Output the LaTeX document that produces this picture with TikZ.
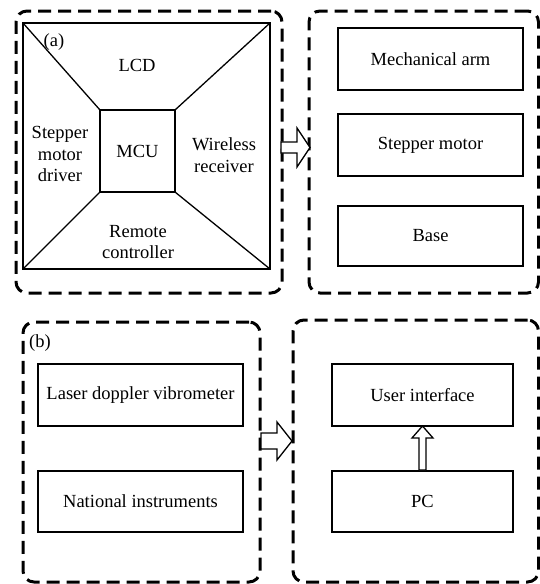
\documentclass[tikz,border=0pt]{standalone}
\usepackage{fontspec}
\setmainfont{Liberation Serif}
\usetikzlibrary{calc}
\begin{document}
\begin{tikzpicture}[x=1pt,y=-1pt,
  every node/.style={font=\rmfamily\fontsize{18.5}{21.5}\selectfont, inner sep=0pt, outer sep=0pt},
  dbox/.style={draw, line width=3pt, dash pattern=on 13pt off 7pt, rounded corners=11pt},
  sbox/.style={draw, line width=1.3pt},
  lbl/.style={align=center},
  barrow/.style={draw, line width=1.3pt, fill=white, line join=miter}]
\useasboundingbox (0,0) rectangle (539,584);
% containers
\node[dbox, minimum width=266, minimum height=282] (A) at (149,152) {};
\node[dbox, minimum width=229.5, minimum height=282] (B) at (423.75,152) {};
\node[dbox, minimum width=237, minimum height=260] (C) at (141.5,452) {};
\node[dbox, minimum width=245.5, minimum height=262] (D) at (415.75,451) {};
% (a) structure
\node[sbox, minimum width=247, minimum height=246] (F) at (146.5,146) {};
\node[sbox, minimum width=75, minimum height=82] (M) at (137.5,151) {MCU};
\draw[line width=1.3pt] (F.north west) -- (M.north west);
\draw[line width=1.3pt] (F.north east) -- (M.north east);
\draw[line width=1.3pt] (F.south west) -- (M.south west);
\draw[line width=1.3pt] (F.south east) -- (M.south east);
\node (la) at (54,42) {(a)};
\node[lbl] (lcd) at (137,65) {LCD};
\node[lbl] (smd) at (60,154) {Stepper\\motor\\driver};
\node[lbl] (wr) at (224,155) {Wireless\\receiver};
\node[lbl] (rc) at (138,242) {Remote\\controller};
% right top boxes
\node[sbox, minimum width=185, minimum height=62] (arm) at (430.5,59) {Mechanical arm};
\node[sbox, minimum width=185, minimum height=62] (sm) at (430.5,145) {Stepper motor};
\node[sbox, minimum width=185, minimum height=60] (base) at (430.5,236) {Base};
% bottom left
\node (lb) at (40,343) {(b)};
\node[sbox, minimum width=205, minimum height=62] (ldv) at (140.5,395) {Laser doppler vibrometer};
\node[sbox, minimum width=205, minimum height=61] (ni) at (140.5,501.5) {National instruments};
% bottom right
\node[sbox, minimum width=181, minimum height=62] (ui) at (422.5,395) {User interface};
\node[sbox, minimum width=181, minimum height=61] (pc) at (422.5,501.5) {PC};
% block arrows
\draw[barrow] ($(A.east)+(-1,-10)$) -- ++(16,0) -- ++(0,-14) -- ++(13,19.5) -- ++(-13,19.5) -- ++(0,-14) -- ++(-16,0) -- cycle;
\draw[barrow] ($(C.east)+(1,-19)$) -- ++(16,0) -- ++(0,-11) -- ++(15,19) -- ++(-15,19) -- ++(0,-11) -- ++(-16,0) -- cycle;
\draw[barrow] ($(pc.north)+(-3.5,-1)$) -- ++(0,-32) -- ++(-7,0) -- ++(10.5,-12) -- ++(10.5,12) -- ++(-7,0) -- ++(0,32) -- cycle;
\end{tikzpicture}
\end{document}
